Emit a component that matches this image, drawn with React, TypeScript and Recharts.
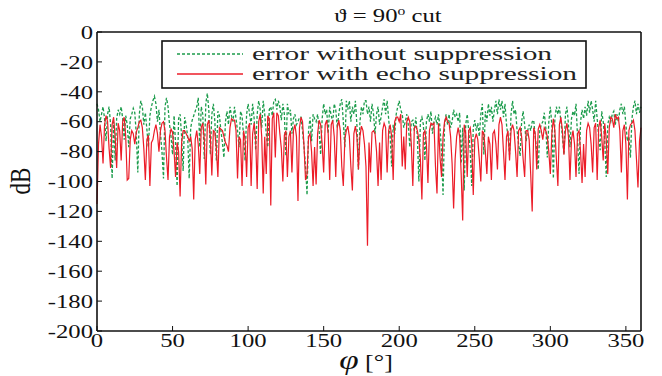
import React from 'react';
import { LineChart, Line, XAxis, YAxis, Legend } from 'recharts';

// azimuth angle in degrees, one sample per degree
const phiDeg = Array.from({ length: 361 }, (_, i) => i);

// error without suppression (green, dashed) in dB
const errorWithout = [
  -48, -52, -60, -55, -50, -58, -73, -55, -50, -62, // 0
  -98, -60, -86, -58, -52, -55, -50, -58, -72, -56, // 10
  -62, -77, -58, -55, -51, -54, -68, -94, -55, -46, // 20
  -50, -62, -54, -65, -77, -56, -50, -46, -43, -48, // 30
  -60, -52, -68, -80, -98, -50, -44, -50, -62, -70, // 40
  -82, -56, -75, -103, -58, -55, -70, -93, -57, -62, // 50
  -70, -98, -64, -59, -56, -53, -50, -44, -77, -50, // 60
  -55, -85, -48, -41, -52, -82, -55, -48, -60, -86, // 70
  -53, -56, -66, -74, -84, -60, -53, -62, -50, -56, // 80
  -60, -50, -58, -66, -77, -53, -56, -70, -86, -55, // 90
  -48, -55, -62, -48, -58, -79, -55, -46, -52, -64, // 100
  -46, -55, -68, -77, -52, -50, -56, -46, -45, -52, // 110
  -46, -50, -59, -48, -55, -83, -48, -55, -52, -68, // 120
  -58, -55, -62, -60, -57, -57, -66, -77, -90, -109, // 130
  -66, -57, -73, -55, -58, -60, -55, -66, -82, -58, // 140
  -48, -55, -52, -68, -50, -56, -60, -48, -52, -64, // 150
  -55, -48, -45, -60, -77, -46, -52, -46, -60, -50, // 160
  -55, -46, -62, -92, -60, -50, -55, -46, -46, -55, // 170
  -50, -60, -48, -55, -68, -55, -50, -62, -57, -50, // 180
  -45, -55, -46, -58, -70, -90, -62, -68, -55, -50, // 190
  -46, -52, -55, -64, -60, -55, -62, -77, -60, -59, // 200
  -66, -57, -70, -100, -60, -57, -62, -86, -60, -55, // 210
  -60, -53, -68, -60, -57, -62, -55, -64, -80, -109, // 220
  -62, -55, -62, -55, -64, -60, -52, -57, -55, -60, // 230
  -54, -88, -64, -106, -62, -55, -66, -80, -103, -64, // 240
  -59, -66, -61, -70, -55, -48, -82, -53, -60, -48, // 250
  -56, -50, -60, -52, -46, -55, -45, -52, -46, -57, // 260
  -48, -62, -70, -82, -55, -46, -55, -52, -66, -75, // 270
  -83, -60, -53, -62, -73, -66, -62, -66, -60, -59, // 280
  -70, -80, -92, -66, -62, -60, -54, -64, -84, -60, // 290
  -50, -62, -98, -58, -50, -55, -50, -60, -70, -82, // 300
  -55, -50, -62, -77, -58, -53, -56, -48, -70, -95, // 310
  -60, -52, -58, -50, -56, -46, -54, -46, -52, -60, // 320
  -46, -58, -70, -79, -53, -60, -72, -97, -62, -57, // 330
  -60, -55, -53, -62, -55, -60, -52, -48, -55, -50, // 340
  -62, -73, -70, -84, -58, -50, -46, -55, -48, -54, // 350
  -50,
];

// error with echo suppression (red, solid) in dB
const errorEcho = [
  -115, -75, -62, -70, -88, -62, -56, -60, -78, -91, // 0
  -62, -57, -70, -91, -61, -66, -86, -60, -57, -70, // 10
  -99, -98, -72, -66, -68, -75, -67, -64, -60, -59, // 20
  -64, -78, -99, -72, -69, -103, -74, -72, -66, -62, // 30
  -68, -80, -66, -61, -60, -66, -84, -99, -70, -65, // 40
  -67, -80, -97, -74, -80, -110, -74, -66, -66, -68, // 50
  -70, -73, -70, -78, -112, -72, -66, -75, -95, -64, // 60
  -61, -72, -102, -62, -59, -70, -96, -66, -67, -78, // 70
  -97, -64, -65, -66, -70, -74, -76, -80, -64, -58, // 80
  -59, -59, -66, -98, -70, -72, -103, -66, -72, -97, // 90
  -64, -61, -103, -68, -61, -72, -105, -60, -55, -70, // 100
  -108, -70, -95, -56, -58, -116, -58, -54, -84, -54, // 110
  -56, -68, -78, -100, -69, -66, -97, -70, -66, -94, // 120
  -66, -62, -70, -113, -64, -57, -60, -76, -99, -95, // 130
  -70, -68, -80, -103, -77, -102, -68, -59, -62, -75, // 140
  -94, -62, -59, -68, -99, -62, -59, -70, -97, -64, // 150
  -59, -66, -90, -103, -72, -66, -63, -70, -90, -106, // 160
  -68, -63, -70, -92, -70, -63, -66, -75, -90, -143, // 170
  -74, -94, -67, -66, -68, -80, -103, -74, -99, -66, // 180
  -61, -64, -94, -66, -62, -70, -99, -60, -57, -57, // 190
  -60, -55, -90, -70, -92, -60, -57, -60, -75, -103, // 200
  -64, -63, -66, -72, -85, -112, -68, -66, -75, -101, // 210
  -66, -61, -62, -61, -90, -108, -61, -84, -97, -70, // 220
  -60, -57, -60, -61, -70, -88, -118, -85, -70, -64, // 230
  -70, -95, -126, -62, -68, -97, -66, -64, -75, -109, // 240
  -72, -68, -72, -85, -100, -66, -68, -80, -95, -70, // 250
  -75, -99, -68, -66, -75, -92, -62, -57, -62, -80, // 260
  -99, -70, -66, -86, -66, -62, -66, -80, -97, -66, // 270
  -64, -70, -85, -97, -66, -66, -72, -95, -120, -64, // 280
  -68, -92, -65, -62, -66, -72, -64, -66, -70, -80, // 290
  -95, -68, -58, -66, -85, -103, -62, -57, -66, -82, // 300
  -66, -61, -70, -99, -72, -66, -75, -97, -68, -66, // 310
  -80, -101, -75, -97, -66, -61, -64, -75, -94, -64, // 320
  -61, -99, -64, -59, -70, -86, -61, -72, -95, -64, // 330
  -57, -58, -64, -55, -58, -57, -66, -94, -66, -62, // 340
  -75, -112, -66, -62, -61, -59, -66, -85, -104, -73, // 350
  -64,
];

const xTicks = [0, 50, 100, 150, 200, 250, 300, 350];
const yTicks = [0, -20, -40, -60, -80, -100, -120, -140, -160, -180, -200];

const data = phiDeg.map((p, i) => ({ phi: p, without: errorWithout[i], echo: errorEcho[i] }));

const serif = "'Liberation Serif', 'Times New Roman', Times, serif";
const green = '#1c9c4c';
const red = '#ec1c28';
const ink = '#111';

// the source figure is stretched sideways, so text is widened a bit
const XTick = ({ x, y, payload }: any) => (
  <g transform={`translate(${x},${y}) scale(1.3,1)`}>
    <text x={0} y={0} dy="0.71em" textAnchor="middle" style={{ fontFamily: serif, fontSize: 19 }} fill={ink}>
      {payload.value}
    </text>
  </g>
);

const YTick = ({ x, y, payload }: any) => (
  <g transform={`translate(${x},${y}) scale(1.3,1)`}>
    <text x={0} y={0} dy="0.355em" textAnchor="end" style={{ fontFamily: serif, fontSize: 19 }} fill={ink}>
      {payload.value}
    </text>
  </g>
);

const XLabel = () => (
  <g transform="translate(366,369) scale(1.3,1)">
    <text x={0} y={0} textAnchor="middle" style={{ fontFamily: serif }} fill={ink}>
      <tspan style={{ fontSize: 27, fontStyle: 'italic' }}>φ</tspan>
      <tspan style={{ fontSize: 20 }} dx={5}>[°]</tspan>
    </text>
  </g>
);

const YLabel = () => (
  <g transform="translate(30,181) rotate(-90)">
    <text x={0} y={0} textAnchor="middle" style={{ fontFamily: serif, fontSize: 23 }} fill={ink} transform="scale(1,1.3)">
      dB
    </text>
  </g>
);

const Title = () => (
  <g transform="translate(388,22) scale(1.3,1)">
    <text x={0} y={0} textAnchor="middle" style={{ fontFamily: serif, fontSize: 19 }} fill={ink}>
      <tspan>ϑ = 90</tspan>
      <tspan style={{ fontSize: 12 }} dy={-7}>o</tspan>
      <tspan dy={7}> cut</tspan>
    </text>
  </g>
);

const LegendBox = () => (
  <svg width={426} height={50} style={{ display: 'block' }}>
    <rect x={1} y={1} width={424} height={47} fill="#fff" stroke={ink} strokeWidth={1.6} />
    <line x1={16} x2={82} y1={14} y2={14} stroke={green} strokeWidth={1.4} strokeDasharray="3 2" />
    <line x1={16} x2={82} y1={34} y2={34} stroke={red} strokeWidth={1.4} />
    <text x={91} y={20} style={{ fontFamily: serif, fontSize: 19 }} fill="#222" textLength={300} lengthAdjust="spacingAndGlyphs">
      error without suppression
    </text>
    <text x={91} y={40} style={{ fontFamily: serif, fontSize: 19 }} fill="#222" textLength={325} lengthAdjust="spacingAndGlyphs">
      error with echo suppression
    </text>
  </svg>
);

const axisStroke = { stroke: ink, strokeWidth: 1.6 };

export default function App() {
  return (
    <div style={{ position: 'absolute', left: 0, top: 0, width: 662, height: 376, background: '#fff' }}>
      <LineChart width={662} height={376} data={data} margin={{ top: 31, right: 20, left: 0, bottom: 0 }}>
        <XAxis
          dataKey="phi"
          type="number"
          domain={[0, 360]}
          ticks={xTicks}
          interval={0}
          height={45}
          tickSize={-5}
          tickMargin={8}
          axisLine={axisStroke}
          tickLine={{ stroke: ink }}
          tick={<XTick />}
          label={{ content: XLabel }}
        />
        <XAxis
          xAxisId="top"
          orientation="top"
          dataKey="phi"
          type="number"
          domain={[0, 360]}
          ticks={xTicks}
          interval={0}
          height={1}
          tickSize={-5}
          axisLine={axisStroke}
          tickLine={{ stroke: ink }}
          tick={false}
          label={{ content: Title }}
        />
        <YAxis
          type="number"
          domain={[-200, 0]}
          ticks={yTicks}
          interval={0}
          width={97}
          tickSize={-5}
          tickMargin={9}
          axisLine={axisStroke}
          tickLine={{ stroke: ink }}
          tick={<YTick />}
          label={{ content: YLabel }}
        />
        <YAxis
          yAxisId="right"
          orientation="right"
          type="number"
          domain={[-200, 0]}
          ticks={yTicks}
          interval={0}
          width={1}
          tickSize={-5}
          axisLine={axisStroke}
          tickLine={{ stroke: ink }}
          tick={false}
        />
        <Legend
          layout="horizontal"
          verticalAlign="middle"
          align="center"
          content={<LegendBox />}
          wrapperStyle={{ left: 161, top: 40, width: 426, height: 50 }}
        />
        <Line
          dataKey="without"
          stroke={green}
          strokeWidth={1.3}
          strokeDasharray="3 2"
          dot={false}
          isAnimationActive={false}
        />
        <Line dataKey="echo" stroke={red} strokeWidth={1.2} dot={false} isAnimationActive={false} />
      </LineChart>
    </div>
  );
}
